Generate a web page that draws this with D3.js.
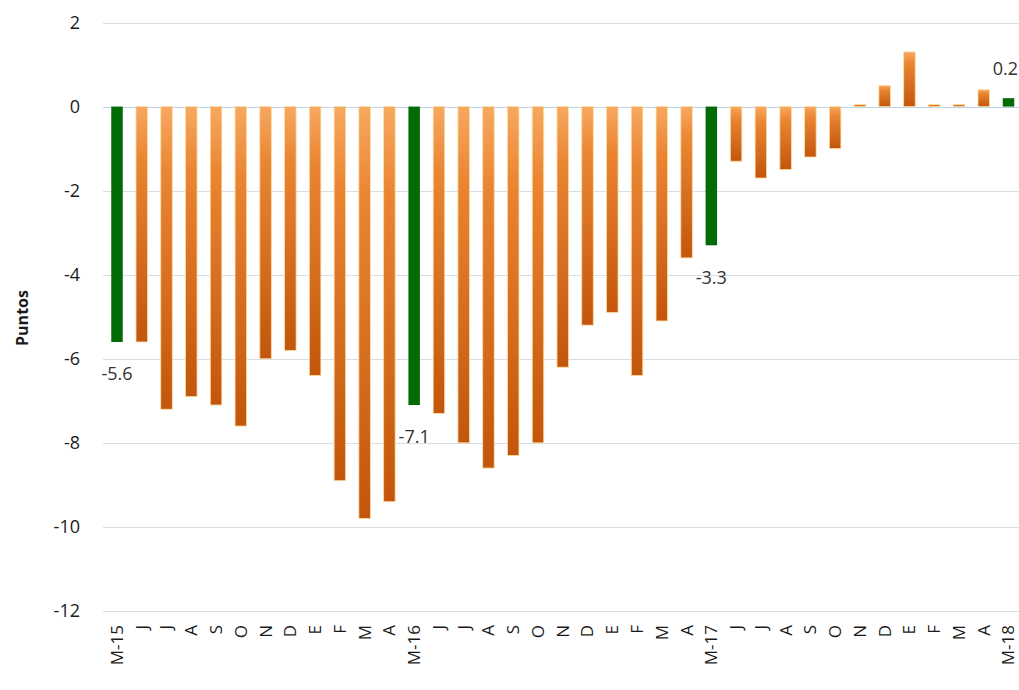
<!DOCTYPE html>
<html>
<head>
<meta charset="utf-8">
<script src="https://cdn.jsdelivr.net/npm/d3@7"></script>
<style>
  html, body { margin: 0; padding: 0; background: #fff; overflow: hidden; }
  svg { display: block; }
</style>
</head>
<body>
<svg id="chart" width="1019" height="690"></svg>
<script>
const categories = ["M-15","J","J","A","S","O","N","D","E","F","M","A",
                    "M-16","J","J","A","S","O","N","D","E","F","M","A",
                    "M-17","J","J","A","S","O","N","D","E","F","M","A","M-18"];
const values = [-5.6,-5.6,-7.2,-6.9,-7.1,-7.6,-6.0,-5.8,-6.4,-8.9,-9.8,-9.4,
                -7.1,-7.3,-8.0,-8.6,-8.3,-8.0,-6.2,-5.2,-4.9,-6.4,-5.1,-3.6,
                -3.3,-1.3,-1.7,-1.5,-1.2,-1.0,0.05,0.5,1.3,0.05,0.05,0.4,0.2];
const highlighted = ["M-15","M-16","M-17","M-18"];
const labelled = {0: "-5.6", 12: "-7.1", 24: "-3.3", 36: "0.2"};
const yTicks = [2,0,-2,-4,-6,-8,-10,-12];
const yTitle = "Puntos";

const svg = d3.select("#chart");
const W = 1019, H = 690;

const y = d3.scaleLinear().domain([-12, 2]).range([611, 22.5]);
const x = d3.scalePoint().domain(d3.range(categories.length)).range([117, 1008.5]);
const barW = 11.5;

const defs = svg.append("defs");
const grad = defs.append("linearGradient").attr("id","og").attr("x1",0).attr("y1",0).attr("x2",0).attr("y2",1);
grad.append("stop").attr("offset","0%").attr("stop-color","#f7a860");
grad.append("stop").attr("offset","22%").attr("stop-color","#ea8532");
grad.append("stop").attr("offset","100%").attr("stop-color","#c2560c");

// gridlines
svg.append("g").selectAll("line").data(yTicks).join("line")
  .attr("x1", 103).attr("x2", W)
  .attr("y1", d => Math.round(y(d)) + 0.5).attr("y2", d => Math.round(y(d)) + 0.5)
  .attr("stroke", d => d === 0 ? "#b9d3ec" : "#d9dde5").attr("stroke-width", 1.2);

// y tick labels
svg.append("g").selectAll("text").data(yTicks).join("text")
  .attr("x", 80).attr("y", d => y(d)).attr("dy", "0.35em")
  .attr("text-anchor", "end")
  .attr("font-family", "'Open Sans', 'Noto Sans', sans-serif")
  .attr("font-size", 18).attr("fill", "#1a1a1a")
  .text(d => d);

// y title
svg.append("text")
  .attr("transform", "translate(28,318) rotate(-90)")
  .attr("text-anchor", "middle")
  .attr("font-family", "'Open Sans', 'Noto Sans', sans-serif")
  .attr("font-weight", "bold").attr("font-size", 16).attr("fill", "#1a1a1a")
  .text(yTitle);

// bars
svg.append("g").selectAll("rect").data(values).join("rect")
  .attr("x", (d, i) => x(i) - barW / 2)
  .attr("width", barW)
  .attr("y", d => y(Math.max(0, d)))
  .attr("height", d => Math.abs(y(d) - y(0)))
  .attr("fill", (d, i) => highlighted.includes(categories[i]) ? "#036b05" : "url(#og)")
  .attr("stroke", (d, i) => highlighted.includes(categories[i]) ? "none" : "#fcdca0")
  .attr("stroke-width", 0.8);

// data labels
Object.entries(labelled).forEach(([i, t]) => {
  const v = values[+i];
  const last = +i === categories.length - 1;
  svg.append("text")
    .attr("x", last ? W - 1 : x(+i))
    .attr("y", v < 0 ? y(v) + 32 : y(v) - 29)
    .attr("dy", "0.35em")
    .attr("text-anchor", last ? "end" : "middle")
    .attr("font-family", "'Open Sans', 'Noto Sans', sans-serif")
    .attr("font-size", 18).attr("fill", "#333")
    .text(t);
});

// x labels (rotated)
svg.append("g").selectAll("text").data(categories).join("text")
  .attr("transform", (d, i) => `translate(${x(i)},625) rotate(-90)`)
  .attr("text-anchor", "end").attr("dy", "0.35em")
  .attr("font-family", "'Open Sans', 'Noto Sans', sans-serif")
  .attr("font-size", 17).attr("fill", "#1a1a1a")
  .text(d => d);
</script>
</body>
</html>
